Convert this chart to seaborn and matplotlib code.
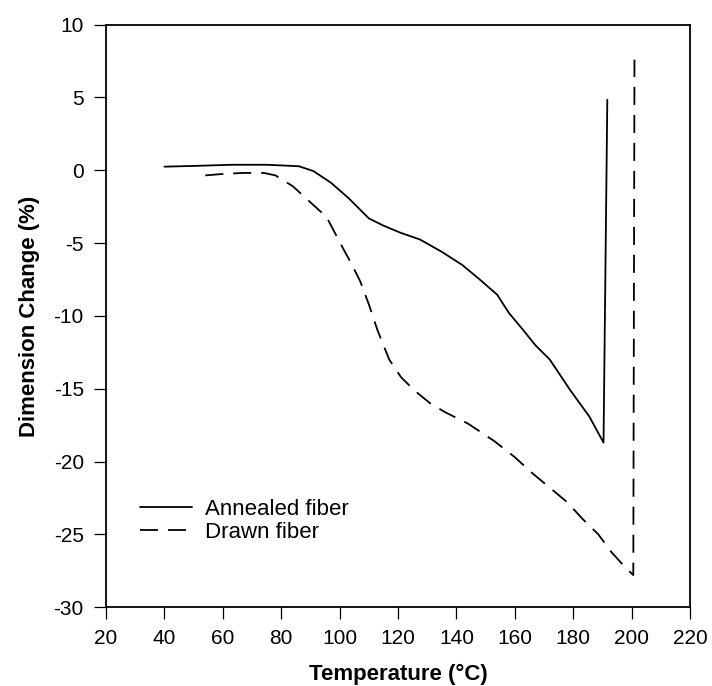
import matplotlib
matplotlib.use("Agg")
import matplotlib.pyplot as plt
import seaborn as sns
import pandas as pd

annealed_x = [40, 50, 63, 75, 86, 91, 97, 103, 110, 115, 121, 127.5, 135, 142, 148, 154, 158, 163, 167, 172, 179, 185.5, 190.4, 191.7]
annealed_y = [0.25, 0.3, 0.38, 0.38, 0.28, -0.05, -0.85, -1.9, -3.3, -3.8, -4.3, -4.75, -5.6, -6.5, -7.5, -8.55, -9.8, -11.0, -12.0, -13.0, -15.1, -16.9, -18.7, 4.85]

drawn_x = [54, 60, 67, 74, 78, 84, 90, 95.5, 101, 104, 107, 110, 113, 117, 121, 125.5, 131, 136, 144, 153, 160, 166, 172, 178, 183, 188.6, 193, 198, 200.6, 201]
drawn_y = [-0.35, -0.25, -0.18, -0.18, -0.35, -1.1, -2.2, -3.2, -5.3, -6.4, -7.6, -9.2, -11.0, -13.0, -14.2, -15.1, -16.0, -16.6, -17.4, -18.6, -19.7, -20.8, -21.8, -22.8, -23.9, -25.0, -26.2, -27.3, -27.8, 7.6]

series_names = ["Annealed fiber", "Drawn fiber"]
x_ticks = [20, 40, 60, 80, 100, 120, 140, 160, 180, 200, 220]
y_ticks = [-30, -25, -20, -15, -10, -5, 0, 5, 10]

df = pd.concat([
    pd.DataFrame({"T": annealed_x, "D": annealed_y, "Series": series_names[0]}),
    pd.DataFrame({"T": drawn_x, "D": drawn_y, "Series": series_names[1]}),
], ignore_index=True)

sns.set_theme(style="ticks")
plt.rcParams["font.family"] = ["Liberation Sans", "DejaVu Sans"]
plt.rcParams["axes.unicode_minus"] = False
plt.rcParams["text.color"] = "black"
plt.rcParams["axes.labelcolor"] = "black"

fig = plt.figure(figsize=(7.12, 6.86), dpi=100)
ax = fig.add_axes([0.149, 0.115, 0.82, 0.849])

sns.lineplot(data=df, x="T", y="D", style="Series", dashes={series_names[0]: "", series_names[1]: (10, 5.5)},
             color="black", linewidth=1.3, sort=False, estimator=None, units="Series", ax=ax)

ax.set_xlim(20, 220)
ax.set_ylim(-30, 10)
ax.set_xticks(x_ticks)
ax.set_yticks(y_ticks)
ax.tick_params(direction="out", length=8.5, width=0.9, labelsize=15, colors="black", top=False, right=False, pad=7.5)
for s in ax.spines.values():
    s.set_visible(True)
    s.set_linewidth(1.3)
    s.set_color("black")

ax.set_xlabel("Temperature (°C)", fontsize=16, fontweight="bold", labelpad=11, color="black")
ax.set_ylabel("Dimension Change (%)", fontsize=16, fontweight="bold", labelpad=10, color="black")

leg = ax.legend(loc="lower left", bbox_to_anchor=(0.058, 0.11), frameon=False, fontsize=16,
                handlelength=2.35, handletextpad=0.58, labelspacing=0.08, borderpad=0, borderaxespad=0,
                title=None, labelcolor="black")

fig.savefig("out.png", dpi=100, facecolor="white")
